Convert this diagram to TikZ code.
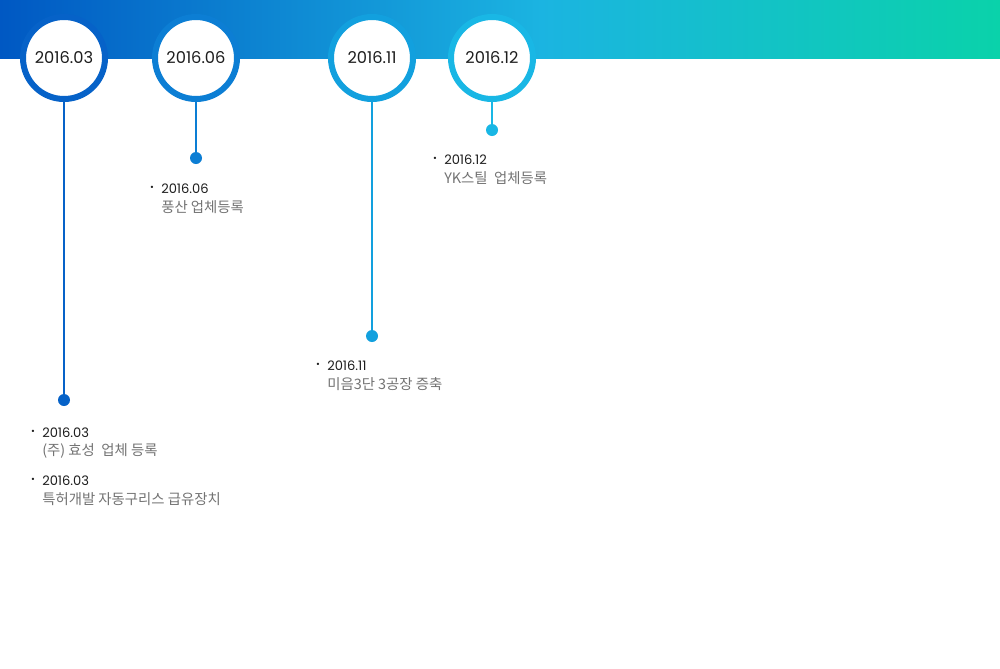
\documentclass[tikz,border=0pt]{standalone}
\usepackage{fontspec}
\setmainfont{Poppins}
\newfontfamily\krfont{Noto Sans CJK KR}
\usetikzlibrary{positioning}
\definecolor{barleft}{RGB}{0,88,195}
\definecolor{barmid}{RGB}{27,180,225}
\definecolor{barright}{RGB}{10,210,170}
\definecolor{ringa}{RGB}{6,98,200}
\definecolor{ringb}{RGB}{12,126,212}
\definecolor{ringc}{RGB}{18,160,222}
\definecolor{ringd}{RGB}{25,183,229}
\definecolor{datetext}{RGB}{30,30,30}
\definecolor{desctext}{RGB}{115,115,115}

\tikzset{
    yearcircle/.style={circle, draw=#1, line width=4.5pt, fill=white,
        minimum size=61.5pt, inner sep=0pt, font=\fontsize{12.2}{13}\selectfont, text=datetext},
    stem/.style={draw=#1, line width=2.2pt},
    enddot/.style={circle, fill=#1, minimum size=9pt, inner sep=0pt},
    itemdate/.style={anchor=west, inner sep=0pt, font=\fontsize{9.8}{10}\selectfont, text=datetext},
    itemdesc/.style={anchor=west, inner sep=0pt, font=\krfont\fontsize{10.8}{11}\selectfont, text=desctext},
    itembullet/.style={anchor=center, inner sep=0pt, font=\fontsize{7}{7}\selectfont, text=datetext}
}

\begin{document}
\begin{tikzpicture}[x=0.75pt, y=-0.75pt]
    \useasboundingbox (0,0) rectangle (1000,668);
    \fill[white] (0,0) rectangle (1000,668);

    % Top bar
    \shade[left color=barleft, right color=barmid] (0,0) rectangle (541,58);
    \shade[left color=barmid, right color=barright] (540,0) rectangle (1000,58);

    % Year circles
    \node[yearcircle=ringa] (y1) at (64,58) {2016.03};
    \node[yearcircle=ringb] (y2) at (196,58) {2016.06};
    \node[yearcircle=ringc] (y3) at (372,58) {2016.11};
    \node[yearcircle=ringd] (y4) at (492,58) {2016.12};

    % End dots
    \node[enddot=ringa] (d1) at (64,400) {};
    \node[enddot=ringb] (d2) at (196,158) {};
    \node[enddot=ringc] (d3) at (372,336) {};
    \node[enddot=ringd] (d4) at (492,130) {};

    % Stems
    \draw[stem=ringa] (y1) -- (d1);
    \draw[stem=ringb] (y2) -- (d2);
    \draw[stem=ringc] (y3) -- (d3);
    \draw[stem=ringd] (y4) -- (d4);

    % Entries 2016.03
    \node[itembullet] (b1) at (33,432) {\textbullet};
    \node[itemdate] (e1) at (42,433) {2016.03};
    \node[itemdesc] (f1) at (42,451) {(주) 효성\ \ 업체 등록};
    \node[itembullet] (b2) at (33,480) {\textbullet};
    \node[itemdate] (e2) at (42,481) {2016.03};
    \node[itemdesc] (f2) at (42,499) {특허개발 자동구리스 급유장치};

    % Entry 2016.06
    \node[itembullet] (b3) at (152,188) {\textbullet};
    \node[itemdate] (e3) at (161,189) {2016.06};
    \node[itemdesc] (f3) at (161,207) {풍산 업체등록};

    % Entry 2016.11
    \node[itembullet] (b4) at (318,365) {\textbullet};
    \node[itemdate] (e4) at (327,366) {2016.11};
    \node[itemdesc] (f4) at (327,384) {미음3단 3공장 증축};

    % Entry 2016.12
    \node[itembullet] (b5) at (435,159) {\textbullet};
    \node[itemdate] (e5) at (444,160) {2016.12};
    \node[itemdesc] (f5) at (444,178) {YK스틸\ \ 업체등록};
\end{tikzpicture}
\end{document}
